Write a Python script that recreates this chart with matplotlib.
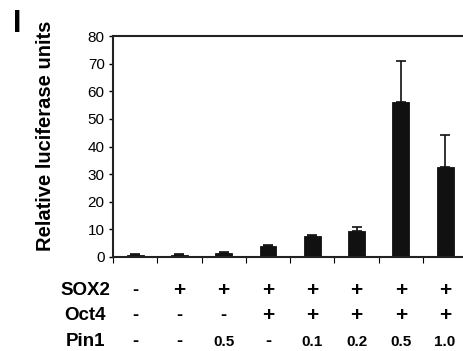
import matplotlib
matplotlib.use("Agg")
import matplotlib.pyplot as plt

# data
values = [0.8, 0.8, 1.5, 4.0, 7.7, 9.3, 56.2, 32.7]
err_up = [0.2, 0.2, 0.2, 0.3, 0.3, 1.4, 14.9, 11.5]
sox2 = ['-', '+', '+', '+', '+', '+', '+', '+']
oct4 = ['-', '-', '-', '+', '+', '+', '+', '+']
pin1 = ['-', '-', '0.5', '-', '0.1', '0.2', '0.5', '1.0']
row_names = ['SOX2', 'Oct4', 'Pin1']

plt.rcParams['font.family'] = ['Liberation Sans', 'DejaVu Sans']

fig = plt.figure(figsize=(4.64, 3.51), dpi=100)
ax = fig.add_axes([0.2435, 0.268, 0.7635, 0.629])

x = list(range(len(values)))
ax.bar(x, values, width=0.38, color='#111111', edgecolor='#111111', linewidth=0.6,
       yerr=[[0] * len(values), err_up], capsize=3.5,
       error_kw=dict(ecolor='#111111', elinewidth=1.2, capthick=1.2))

ax.set_xlim(-0.5, 7.5)
ax.set_ylim(0, 80)
ax.set_yticks(range(0, 81, 10))
ax.set_xticks([i - 0.5 for i in range(len(values) + 1)])
ax.set_xticklabels([])
ax.tick_params(axis='y', direction='out', length=3, width=1, labelsize=11, pad=3)
ax.tick_params(axis='x', direction='out', length=4, width=0.8)
for s in ax.spines.values():
    s.set_linewidth(1.5)
    s.set_color('#222222')
ax.spines['right'].set_visible(False)

ax.set_ylabel('Relative luciferase units', fontsize=14.5, fontweight='bold')
ax.yaxis.set_label_coords(-0.164, 0.55)

tr = ax.get_xaxis_transform()
rows_y = [-0.154, -0.267, -0.385]
for row, name, yy in zip([sox2, oct4, pin1], row_names, rows_y):
    ax.text(-1.13, yy, name, transform=tr, ha='center', va='center',
            fontsize=13.5, fontweight='bold', clip_on=False)
    for i, v in enumerate(row):
        size = 15 if v == '+' else (13 if v == '-' else 11)
        ax.text(i, yy, v, transform=tr, ha='center', va='center',
                fontsize=size, fontweight='bold', clip_on=False)

fig.text(0.037, 0.932, 'I', fontsize=22, fontweight='bold', ha='center', va='center')

fig.savefig('out.png', dpi=100)
